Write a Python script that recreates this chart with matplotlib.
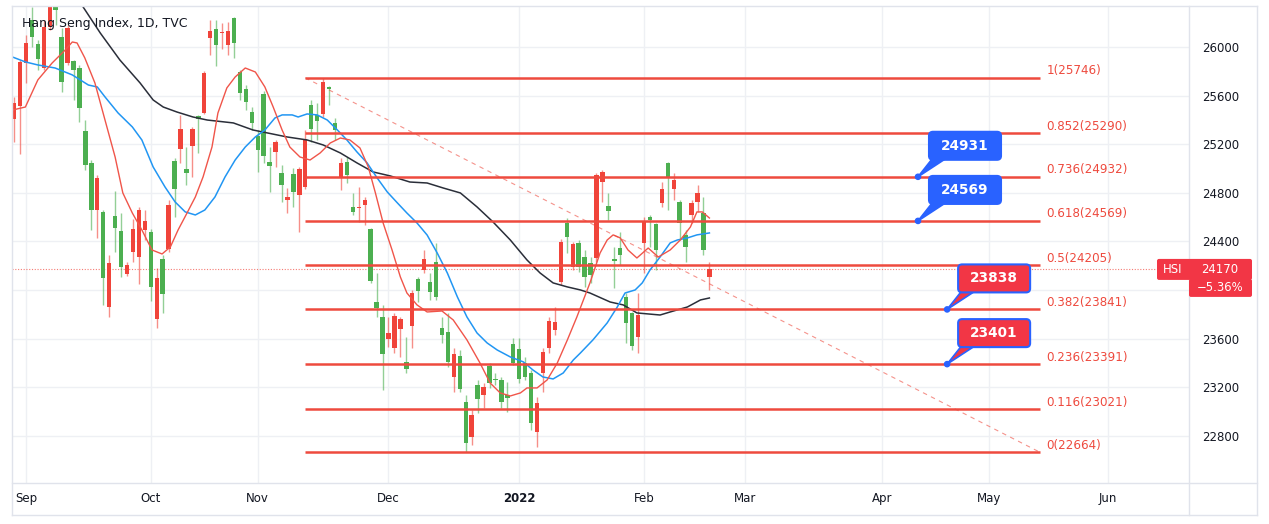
import matplotlib
matplotlib.use('Agg')
import matplotlib.pyplot as plt
import numpy as np
import pandas as pd
from matplotlib.patches import FancyBboxPatch, Polygon, Circle
from matplotlib.transforms import IdentityTransform
from matplotlib.lines import Line2D

# ---------------- data ----------------
holidays = ['2021-09-22', '2021-10-01', '2021-10-13', '2021-10-14', '2021-12-27',
            '2022-02-01', '2022-02-02', '2022-02-03', '2022-04-05', '2022-04-15',
            '2022-04-18', '2022-05-02', '2022-05-09', '2022-06-03']
calendar_start = '2021-08-30'
calendar_end = '2022-06-30'

opens = [25408, 25515, 25868, 26222, 26025, 25827, 26165, 26330, 26082, 25868,
         25885, 25827, 25309, 25046, 24659, 24643, 23861, 24610, 24486, 24133,
         24314, 24273, 24495, 24478, 23762, 24256, 24338, 25062, 25161, 24996,
         25186, 25432, 25457, 26074, 26148, 26115, 26016, 26239, 25794, 25655,
         25465, 25268, 25613, 25054, 25136, 24963, 24741, 24955, 24783, 24848,
         25523, 25441, 25449, 25671, 25375, 24930, 25054, 24684, 24676, 24700,
         24503, 23902, 23779, 23598, 23524, 23680, 23409, 23705, 24092, 24165,
         24067, 24231, 23688, 23655, 23285, 23458, 23080, 22792, 23219, 23137,
         23376, 23269, 23261, 23137, 23557, 23516, 23400, 23318, 22833, 23318,
         23524, 23672, 24067, 24552, 24190, 24388, 24272, 24223, 24264, 24889,
         24692, 24256, 24346, 23943, 23812, 23614, 24388, 24602, 24544, 24717,
         25046, 24832, 24725, 24454, 24618, 24725, 24634, 24108]
highs = [25589, 25893, 26099, 26330, 26058, 26222, 26420, 26380, 26156, 26181,
         25893, 25852, 25399, 25070, 24947, 24659, 24289, 24815, 24634, 24231,
         24585, 24684, 24659, 24503, 24182, 24289, 24741, 25087, 25441, 25177,
         25342, 25441, 25803, 26222, 26222, 26197, 26206, 26247, 25811, 25687,
         25506, 25317, 25638, 25177, 25235, 25029, 24840, 25005, 25013, 25317,
         25564, 25539, 25746, 25680, 25416, 25087, 25095, 24799, 24848, 24766,
         24510, 24141, 23878, 23779, 23812, 23779, 23614, 24001, 24108, 24330,
         24141, 24388, 23779, 23812, 23524, 23507, 23137, 23014, 23261, 23236,
         23400, 23318, 23285, 23244, 23606, 23606, 23450, 23343, 23120, 23524,
         23779, 23861, 24420, 24593, 24396, 24412, 24330, 24272, 24963, 24988,
         24799, 24355, 24478, 23976, 23820, 23976, 24602, 24618, 24552, 24889,
         25054, 24963, 24741, 24495, 24741, 24865, 24766, 24231]
lows = [25218, 25120, 25704, 26000, 25811, 25811, 26140, 26180, 25630, 25852,
        25564, 25383, 24988, 24495, 24429, 23878, 23779, 24314, 24108, 24116,
        24231, 24050, 24412, 23910, 23688, 23812, 24314, 24602, 25046, 24865,
        24931, 25128, 25449, 25934, 25844, 25984, 25934, 25910, 25564, 25482,
        25317, 24972, 25046, 24807, 25013, 24725, 24634, 24684, 24478, 24832,
        25218, 25235, 25424, 25523, 25235, 24824, 24881, 24618, 24560, 24536,
        24059, 23779, 23178, 23532, 23483, 23450, 23318, 23524, 23902, 24141,
        23919, 23919, 23565, 23367, 23162, 23162, 22664, 22726, 22989, 23030,
        23195, 23219, 23030, 22997, 23384, 23236, 23261, 22849, 22709, 23162,
        23483, 23631, 24040, 24305, 24165, 24149, 24026, 24059, 24231, 24725,
        24577, 24017, 24207, 23565, 23507, 23483, 24141, 24355, 24165, 24684,
        24659, 24741, 24412, 24231, 24552, 24643, 24289, 24001]
closes = [25539, 25877, 26033, 26082, 25901, 26165, 26350, 26300, 25712, 26156,
          25811, 25498, 25029, 24659, 24922, 24100, 24223, 24511, 24190, 24207,
          24503, 24659, 24569, 24026, 24100, 23968, 24700, 24832, 25325, 24963,
          25325, 25408, 25786, 26132, 26016, 26123, 26132, 26033, 25622, 25548,
          25375, 25153, 25103, 25021, 25218, 24865, 24766, 24807, 24996, 25243,
          25325, 25391, 25712, 25654, 25317, 25046, 24947, 24643, 24684, 24741,
          24075, 23853, 23474, 23647, 23787, 23762, 23351, 23976, 23993, 24256,
          23985, 23943, 23631, 23409, 23474, 23187, 22742, 22973, 23104, 23203,
          23236, 23261, 23080, 23112, 23400, 23269, 23285, 22907, 23071, 23491,
          23746, 23738, 24396, 24437, 24379, 24190, 24108, 24124, 24947, 24972,
          24651, 24240, 24289, 23730, 23540, 23795, 24560, 24577, 24330, 24832,
          24930, 24906, 24552, 24355, 24717, 24799, 24330, 24170]

# moving averages (bar position, value)
ma_fast_x = [-0.2, 1.9, 4.0, 6.4, 8.6, 9.8, 10.6, 11.9, 13.6, 15.3, 17.0, 18.3, 19.9,
             21.5, 23.2, 24.9, 26.3, 27.6, 29.1, 30.5, 31.8, 33.3, 34.3, 35.8, 37.2,
             38.9, 40.6, 42.2, 43.6, 45.1, 46.4, 48.1, 49.8, 51.5, 53.2, 54.9, 56.5,
             58.2, 59.6, 60.8, 62.1, 63.6, 65.0, 66.1, 67.8, 69.5, 72.0, 73.9, 76.2,
             78.4, 80.1, 81.8, 83.5, 85.2, 86.3, 88.0, 89.7, 91.4, 93.1, 94.7, 96.9,
             98.6, 99.8, 100.8, 102.0, 103.3, 104.8, 106.7, 108.4, 110.4, 112.1,
             113.8, 114.9, 115.8, 117.0]
ma_fast_y = [25482, 25506, 25729, 25868, 25975, 26041, 26033, 25910, 25704, 25399,
             25095, 24799, 24634, 24495, 24330, 24297, 24355, 24495, 24634, 24766,
             24931, 25177, 25457, 25663, 25753, 25827, 25794, 25671, 25506, 25317,
             25177, 25095, 25070, 25128, 25210, 25251, 25235, 25169, 25013, 24799,
             24552, 24330, 24108, 23976, 23878, 23820, 23828, 23754, 23590, 23400,
             23236, 23154, 23129, 23154, 23195, 23195, 23261, 23400, 23590, 23779,
             24059, 24305, 24412, 24454, 24429, 24330, 24264, 24346, 24272, 24330,
             24412, 24519, 24643, 24643, 24593]
ma_mid_x = [-0.3, 1.9, 4.0, 6.9, 9.8, 12.5, 14.0, 15.3, 17.5, 19.9, 21.5, 23.4, 25.4,
            27.1, 28.8, 30.5, 32.1, 33.8, 35.5, 37.2, 38.9, 40.6, 42.2, 43.9, 45.1,
            46.8, 47.8, 49.3, 51.0, 52.7, 54.4, 56.0, 57.7, 59.4, 61.1, 62.8, 64.5,
            66.1, 67.8, 69.5, 71.2, 72.9, 74.6, 76.2, 77.9, 79.6, 81.3, 83.5, 85.7,
            87.3, 89.0, 90.7, 92.4, 94.1, 95.3, 97.4, 99.8, 101.5, 102.8, 104.5,
            105.7, 107.0, 108.7, 110.4, 111.6, 113.3, 114.9, 117.0]
ma_mid_y = [25918, 25877, 25852, 25827, 25770, 25687, 25671, 25589, 25457, 25342,
            25235, 25013, 24848, 24725, 24643, 24618, 24659, 24766, 24931, 25070,
            25177, 25260, 25317, 25416, 25441, 25441, 25424, 25449, 25441, 25399,
            25317, 25235, 25136, 25046, 24922, 24807, 24717, 24634, 24552, 24453,
            24305, 24141, 23943, 23779, 23647, 23565, 23507, 23450, 23409, 23343,
            23285, 23269, 23318, 23425, 23483, 23590, 23730, 23861, 23976, 24001,
            24059, 24165, 24272, 24388, 24412, 24429, 24454, 24470]
ma_slow_x = [9.0, 11.4, 14.5, 17.8, 21.2, 23.4, 25.1, 27.4, 30.1, 32.5, 36.9, 40.2,
             42.6, 45.9, 49.3, 52.0, 54.9, 57.7, 60.4, 63.3, 66.6, 69.5, 72.2, 75.1,
             77.9, 80.6, 83.5, 86.3, 88.5, 90.7, 93.1, 95.3, 96.9, 100.3, 102.5,
             104.8, 108.7, 110.4, 113.3, 115.5, 117.0]
ma_slow_y = [26560, 26345, 26115, 25893, 25704, 25564, 25506, 25465, 25424, 25399,
             25375, 25317, 25293, 25260, 25235, 25194, 25128, 25046, 24972, 24939,
             24889, 24881, 24840, 24799, 24684, 24560, 24412, 24248, 24141, 24059,
             24026, 24001, 23976, 23902, 23878, 23812, 23795, 23820, 23861, 23919,
             23935]

fib_ratios = ['1', '0.852', '0.736', '0.618', '0.5', '0.382', '0.236', '0.116', '0']
fib_values = [25746, 25290, 24932, 24569, 24205, 23841, 23391, 23021, 22664]
fib_start = 49.0
fib_end = 172.7

callout_x = [152.1, 152.1, 157.0, 157.0]
callout_level = [24932, 24569, 23841, 23391]
callout_text = ['24931', '24569', '23838', '23401']
callout_kind = ['blue', 'blue', 'red', 'red']

y_ticks = [22800, 23200, 23600, 24000, 24400, 24800, 25200, 25600, 26000]
y_tick_labels = ['22800', '23200', '23600', '', '24400', '24800', '25200', '25600', '26000']
month_labels = ['Sep', 'Oct', 'Nov', 'Dec', '2022', 'Feb', 'Mar', 'Apr', 'May', 'Jun']
symbol = 'HSI'
last_price = 24170
change_text = '\u22125.36%'
title = 'Hang Seng Index, 1D, TVC'

# ---------------- style ----------------
UP = '#F0443A'
DOWN = '#4CAF50'
FIB = '#EE4A3E'
BLUE = '#2962FF'
TXT = '#131722'
GRID = '#EEF0F4'
FRAME = '#E0E3EB'

W, H = 1269, 524
fig = plt.figure(figsize=(W / 100, H / 100), dpi=100)
fig.patch.set_facecolor('white')
L, R, T, B = 12, 1189, 6, 483
ax = fig.add_axes([L / W, (H - B) / H, (R - L) / W, (B - T) / H])
ax.set_facecolor('white')

# trading calendar -> bar index
days = pd.bdate_range(calendar_start, calendar_end)
days = days[~days.isin(pd.to_datetime(holidays))]
n = len(closes)
xs = np.arange(n)

month_first = []
seen = set()
for i, d in enumerate(days):
    key = (d.year, d.month)
    if d >= pd.Timestamp('2021-09-01') and key not in seen:
        seen.add(key)
        month_first.append(i)
month_first = month_first[:len(month_labels)]

ax.set_xlim(-0.35, 197.7)
ax.set_ylim(22413, 26337)

# grid
ax.set_xticks(month_first)
ax.set_xticklabels(month_labels)
ax.set_yticks(y_ticks)
ax.set_yticklabels(y_tick_labels)
ax.grid(True, color=GRID, lw=1)
ax.set_axisbelow(True)
for s in ax.spines.values():
    s.set_visible(False)
ax.yaxis.tick_right()
ax.tick_params(axis='both', length=0, labelcolor=TXT, labelsize=8.5)
ax.tick_params(axis='y', pad=9.5)
ax.tick_params(axis='x', pad=6.5)
for lbl in ax.get_xticklabels():
    if lbl.get_text() == '2022':
        lbl.set_fontweight('bold')

# candles
o = np.array(opens, float); c = np.array(closes, float)
hi = np.array(highs, float); lo = np.array(lows, float)
cols = [UP if c[i] >= o[i] else DOWN for i in range(n)]
ax.vlines(xs, lo, hi, colors=cols, lw=1, alpha=0.6, zorder=3)
body_h = np.maximum(np.abs(c - o), 9)
ax.bar(xs, body_h, bottom=np.minimum(o, c), width=0.74, color=cols, lw=0, zorder=4)

# moving averages
ax.plot(ma_slow_x, ma_slow_y, color='#2A2E39', lw=1.1, zorder=5)
ax.plot(ma_mid_x, ma_mid_y, color='#2196F3', lw=1.1, zorder=5)
ax.plot(ma_fast_x, ma_fast_y, color='#F0554A', lw=1.0, zorder=5)

# last price dotted line
ax.axhline(last_price, color=UP, lw=0.8, ls=(0, (1, 1.5)), alpha=0.7, zorder=2)

# fib levels
for r, v in zip(fib_ratios, fib_values):
    ax.plot([fib_start, fib_end], [v, v], color=FIB, lw=1.8, solid_capstyle='butt', zorder=6)
    ax.annotate(f'{r}({v})', xy=(fib_end, v), xytext=(6, 7), textcoords='offset pixels',
                ha='left', va='center', color=FIB, fontsize=8.6, zorder=7)
ax.plot([fib_start, fib_end], [fib_values[0], fib_values[-1]], color=FIB, lw=0.8,
        ls=(0, (4, 4)), alpha=0.6, zorder=6)

# title
fig.text(22 / W, 1 - 24 / H, title, ha='left', va='center', color=TXT, fontsize=9.0)

# callouts
fig.canvas.draw()
ident = IdentityTransform()
for xi, lv, tx, kind in zip(callout_x, callout_level, callout_text, callout_kind):
    px, py = ax.transData.transform((xi, lv))
    cx, cy = px + 47, py + 31
    bw, bh = 72, 28
    fc = BLUE if kind == 'blue' else '#F23645'
    tail = Polygon([(cx - bw / 2 + 4, cy - bh / 2 + 2), (cx - bw / 2 + 18, cy - bh / 2 + 2), (px, py)],
                   closed=True, fc=fc, ec=BLUE, lw=1.2, transform=ident, zorder=8)
    fig.add_artist(tail)
    box = FancyBboxPatch((cx - bw / 2, cy - bh / 2), bw, bh,
                         boxstyle='round,pad=0,rounding_size=4', fc=fc, ec=BLUE,
                         lw=1.5, transform=ident, zorder=9)
    fig.add_artist(box)
    dot = Circle((px, py), 2.6, fc=BLUE, ec=BLUE, transform=ident, zorder=10)
    fig.add_artist(dot)
    fig.text(cx / W, cy / H, tx, ha='center', va='center', color='white',
             fontsize=9.8, fontweight='bold', zorder=11)

# price label
_, py = ax.transData.transform((0, last_price))
lab1 = FancyBboxPatch((1157, py - 10.5), 95, 21, boxstyle='round,pad=0,rounding_size=2',
                      fc='#F23645', ec='none', transform=ident, zorder=8)
lab2 = FancyBboxPatch((1189, py - 27.5), 63, 18, boxstyle='round,pad=0,rounding_size=2',
                      fc='#F23645', ec='none', transform=ident, zorder=8)
fig.add_artist(lab1); fig.add_artist(lab2)
fig.text(1173 / W, py / H, symbol, ha='center', va='center', color='white', fontsize=8.4, zorder=9)
fig.text(1220 / W, py / H, str(last_price), ha='center', va='center', color='white', fontsize=8.4, zorder=9)
fig.text(1220 / W, (py - 18.5) / H, change_text, ha='center', va='center', color='white',
         fontsize=8.4, zorder=9)

# frame lines
def fline(x0, y0, x1, y1):
    fig.add_artist(Line2D([x0 / W, x1 / W], [1 - y0 / H, 1 - y1 / H], color=FRAME, lw=1,
                          transform=fig.transFigure, zorder=1))

fline(L, T, 1257, T)
fline(L, 515, 1257, 515)
fline(L, T, L, 515)
fline(1257, T, 1257, 515)
fline(R, T, R, 515)
fline(L, B, 1257, B)

fig.savefig('out.png', dpi=100, facecolor='white')
